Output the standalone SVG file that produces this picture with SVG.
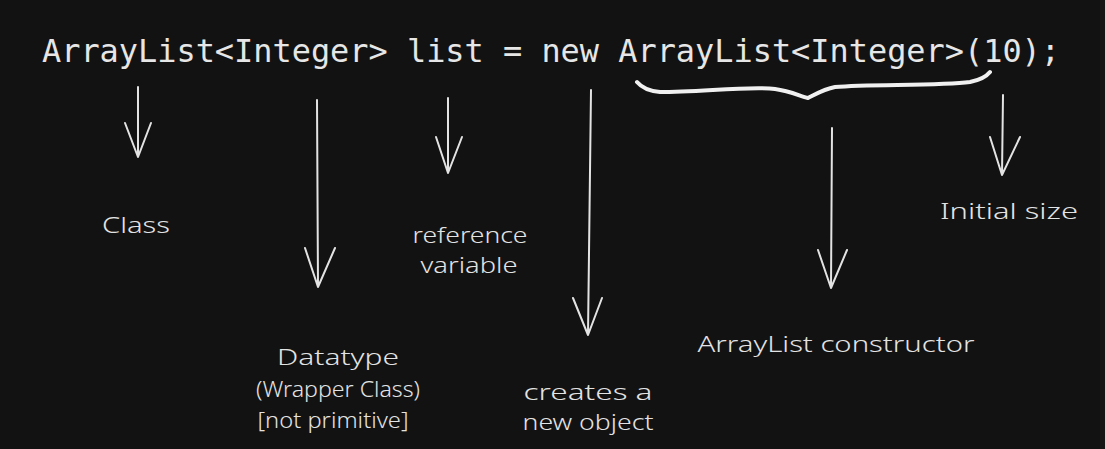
<svg xmlns="http://www.w3.org/2000/svg" width="1105" height="449" viewBox="0 0 1105 449">
<style>
.code{font-family:"DejaVu Sans Mono","Liberation Mono",monospace;font-size:32px;fill:#e6e6e6}
.lbl{font-family:"Noto Sans","Liberation Sans",sans-serif;font-size:21px;font-weight:300;fill:#e3e3e3;text-anchor:middle}
.arr{fill:none;stroke:#e3e3e3;stroke-width:2;stroke-linecap:round;stroke-linejoin:round}
.brace{fill:none;stroke:#f0f0f0;stroke-width:4;stroke-linecap:round;stroke-linejoin:round}
</style>
<rect width="1105" height="449" fill="#121212"/>
<rect x="1100" y="0" width="5" height="449" fill="#161616"/>
<g id="code">
<text class="code" x="42" y="62" textLength="1018" lengthAdjust="spacingAndGlyphs">ArrayList&lt;Integer&gt; list = new ArrayList&lt;Integer&gt;(10);</text>
</g>
<g id="connectors">
<path class="arr" d="M138 87 L138 157 M125 123 L138 157 L151 123"/>
<path class="arr" d="M317 100 L318 287 M305 248 L318 287 L335 248"/>
<path class="arr" d="M448 98 L448 173 M436 137 L448 173 L462 137"/>
<path class="arr" d="M591 90 L588 335 M573 298 L588 335 L602 298"/>
<path class="arr" d="M832 128 L831 288 M818 250 L831 288 L847 250"/>
<path class="arr" d="M1003 95 L1002 175 M990 137 L1002 175 L1020 137"/>
<path class="brace" d="M637 82 C642 88 648 91 660 92 C700 92 750 86 775 89 C790 91 800 96 808 98 C816 94 824 89 835 87 C870 84 940 86 970 82 C980 80 986 77 990 72"/>
</g>
<g id="class"><text class="lbl" x="136" y="233" textLength="68" lengthAdjust="spacingAndGlyphs">Class</text></g>
<g id="datatype">
<text class="lbl" x="338" y="365" textLength="122" lengthAdjust="spacingAndGlyphs">Datatype</text>
<text class="lbl" x="338" y="397" textLength="164" lengthAdjust="spacingAndGlyphs">(Wrapper Class)</text>
<text class="lbl" x="333" y="428" textLength="151" lengthAdjust="spacingAndGlyphs">[not primitive]</text>
</g>
<g id="reference">
<text class="lbl" x="470" y="243" textLength="115" lengthAdjust="spacingAndGlyphs">reference</text>
<text class="lbl" x="469" y="273" textLength="97" lengthAdjust="spacingAndGlyphs">variable</text>
</g>
<g id="newobject">
<text class="lbl" x="588" y="400" textLength="129" lengthAdjust="spacingAndGlyphs">creates a</text>
<text class="lbl" x="588" y="430" textLength="131" lengthAdjust="spacingAndGlyphs">new object</text>
</g>
<g id="constructor"><text class="lbl" x="836" y="352" textLength="277" lengthAdjust="spacingAndGlyphs">ArrayList constructor</text></g>
<g id="initialsize"><text class="lbl" x="1009" y="219" textLength="138" lengthAdjust="spacingAndGlyphs">Initial size</text></g>
</svg>
